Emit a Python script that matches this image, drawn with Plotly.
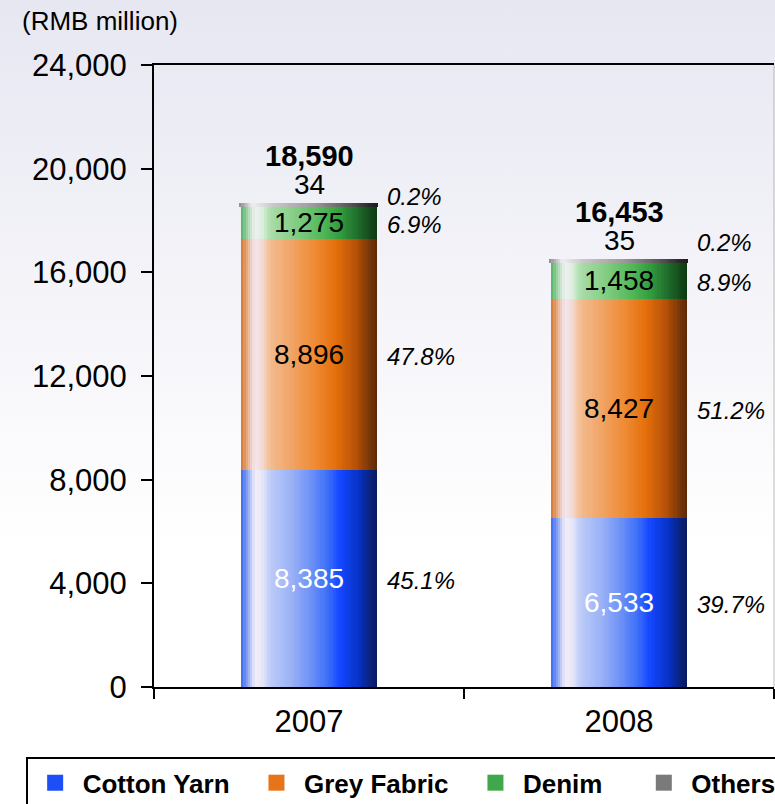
import base64
import plotly.graph_objects as go

# data
years = ['2007', '2008']
segments = ['Cotton Yarn', 'Grey Fabric', 'Denim', 'Others']
cotton_yarn = [8385, 6533]
grey_fabric = [8896, 8427]
denim = [1275, 1458]
others = [34, 35]
totals = [18590, 16453]
pct_cotton = ['45.1%', '39.7%']
pct_grey = ['47.8%', '51.2%']
pct_denim = ['6.9%', '8.9%']
pct_others = ['0.2%', '0.2%']
y_ticks = [0, 4000, 8000, 12000, 16000, 20000, 24000]

series = [cotton_yarn, grey_fabric, denim, others]
pcts = [pct_cotton, pct_grey, pct_denim, pct_others]

# horizontal "glossy" gradients, left -> right across each bar
gradients = [
    [(0, '#3a66f0'), (0.05, '#8ea9f5'), (0.10, '#f1ecf8'), (0.15, '#ebe9f8'),
     (0.22, '#bccaf8'), (0.38, '#98b0f7'), (0.52, '#6b8ff6'), (0.64, '#3b6ef8'),
     (0.73, '#1446ff'), (0.86, '#0733c6'), (1.0, '#0a1a5c')],
    [(0, '#d4742e'), (0.05, '#eab48e'), (0.10, '#f4e6ee'), (0.15, '#f3dcd8'),
     (0.22, '#f2ba8c'), (0.38, '#f1a363'), (0.55, '#ee8a32'), (0.70, '#e46e0a'),
     (0.84, '#b85208'), (1.0, '#5a2806')],
    [(0, '#52b062'), (0.05, '#a8d8ae'), (0.10, '#eef0f0'), (0.15, '#e2efe3'),
     (0.22, '#a8dca8'), (0.40, '#84cd84'), (0.58, '#56ba5c'), (0.72, '#34a040'),
     (0.86, '#1f6c2a'), (1.0, '#0e3812')],
    [(0, '#8a8a8a'), (0.10, '#f0eef0'), (0.25, '#c8c8c8'), (0.55, '#9a9a9a'),
     (0.80, '#5a5a5a'), (1.0, '#1e1e1e')],
]
legend_colors = ['#1c4ff5', '#e8741a', '#3fa84c', '#7a7a7a']
legend_pad = [2, 2, 4, 0]  # trailing non-breaking spaces to spread the legend


def hex_rgb(h):
    h = h.lstrip('#')
    return [int(h[i:i + 2], 16) for i in (0, 2, 4)]


def sample(stops, t):
    for (p0, c0), (p1, c1) in zip(stops[:-1], stops[1:]):
        if p0 <= t <= p1:
            f = 0 if p1 == p0 else (t - p0) / (p1 - p0)
            a, b = hex_rgb(c0), hex_rgb(c1)
            r = [round(a[k] + (b[k] - a[k]) * f) for k in range(3)]
            return f'rgb({r[0]},{r[1]},{r[2]})'
    return stops[-1][1]


FONT = 'Liberation Sans, Arial, sans-serif'
bar_w = 0.438
n_slices = 60
step = bar_w / n_slices

fig = go.Figure()

base = [0, 0]
for k, vals in enumerate(series):
    for i in range(n_slices):
        t = (i + 0.5) / n_slices
        w = step if i == n_slices - 1 else step * 1.6
        col = sample(gradients[k], t)
        # the thin "Others" band gets a same-colour outline so it stays visible
        lw = 3 if k == 3 else 0
        fig.add_trace(go.Bar(
            x=years, y=vals, base=base,
            width=[w, w], offset=-bar_w / 2 + i * step,
            marker=dict(color=col, line=dict(width=lw, color=col)),
            showlegend=False, hoverinfo='skip',
        ))
    base = [b + v for b, v in zip(base, vals)]

# legend entries
for k, name in enumerate(segments):
    fig.add_trace(go.Scatter(
        x=[None], y=[None], mode='markers', name=name + '\u00a0' * legend_pad[k],
        marker=dict(symbol='square', size=16, color=legend_colors[k]),
        showlegend=True, hoverinfo='skip',
    ))

# labels
annotations = []
base = [0, 0]
label_colors = ['white', 'black', 'black']
others_pct_shift = [9, 19]
for k, vals in enumerate(series):
    for j in range(len(years)):
        mid = base[j] + vals[j] / 2
        if k < 3:
            annotations.append(dict(
                x=j, y=mid, text=f'{vals[j]:,}', showarrow=False,
                font=dict(family=FONT, size=28, color=label_colors[k])))
            annotations.append(dict(
                x=j, y=mid, text=pcts[k][j], showarrow=False, xanchor='left',
                xshift=76, yshift=-2,
                font=dict(family=FONT, size=24, color='black', style='italic')))
        else:
            top = base[j] + vals[j]
            annotations.append(dict(
                x=j, y=top, text=f'{vals[j]:,}', showarrow=False,
                yanchor='bottom', yshift=3,
                font=dict(family=FONT, size=28, color='black')))
            annotations.append(dict(
                x=j, y=top, text=f'<b>{totals[j]:,}</b>', showarrow=False,
                yanchor='bottom', yshift=31,
                font=dict(family=FONT, size=29, color='black')))
            annotations.append(dict(
                x=j, y=mid, text=pcts[k][j], showarrow=False, xanchor='left',
                xshift=76, yshift=others_pct_shift[j],
                font=dict(family=FONT, size=24, color='black', style='italic')))
    base = [b + v for b, v in zip(base, vals)]

annotations.append(dict(
    xref='paper', yref='paper', x=-0.216, y=1, xanchor='left', yanchor='bottom',
    yshift=27, text='(RMB million)', showarrow=False,
    font=dict(family=FONT, size=26, color='black')))

# page background gradient (lavender -> white)
svg = ('<svg xmlns="http://www.w3.org/2000/svg" width="775" height="804">'
       '<defs><linearGradient id="g" x1="0" y1="0" x2="0" y2="1">'
       '<stop offset="0" stop-color="#e7e7f2"/>'
       '<stop offset="0.68" stop-color="#ffffff"/></linearGradient></defs>'
       '<rect width="775" height="804" fill="url(#g)"/></svg>')
bg_src = 'data:image/svg+xml;base64,' + base64.b64encode(svg.encode()).decode()

pw, ph = 620, 622
fig.update_layout(
    width=775, height=804,
    margin=dict(l=154, r=1, t=65, b=117, autoexpand=False),
    barmode='overlay', bargap=0,
    paper_bgcolor='white', plot_bgcolor='rgba(0,0,0,0)',
    font=dict(family=FONT, size=30, color='black'),
    annotations=annotations,
    images=[dict(source=bg_src, xref='paper', yref='paper',
                 x=-154 / pw, y=1 + 65 / ph, sizex=775 / pw, sizey=804 / ph,
                 xanchor='left', yanchor='top', sizing='stretch', layer='below')],
    shapes=[dict(type='line', xref='paper', yref='paper', x0=1, x1=1, y0=0, y1=1,
                 line=dict(color='#bbbbbb', width=1))],
    legend=dict(
        orientation='h', x=-0.207, y=-0.113, xanchor='left', yanchor='top',
        bgcolor='white', bordercolor='black', borderwidth=2,
        font=dict(family=FONT, size=26, color='black', weight='bold'),
        itemsizing='trace', itemwidth=45, tracegroupgap=0,
    ),
    xaxis=dict(
        type='category', categoryorder='array', categoryarray=years,
        range=[-0.5, 1.5], tickson='boundaries', ticks='outside', ticklen=10,
        tickwidth=2, tickcolor='black', showline=True, linecolor='black',
        linewidth=2, mirror=True, showgrid=False, zeroline=False,
        tickfont=dict(size=31), ticklabelstandoff=6,
    ),
    yaxis=dict(
        range=[0, 24000], tickvals=y_ticks, tickformat=',', ticks='outside',
        ticklen=11, tickwidth=2, tickcolor='black', showline=True,
        linecolor='black', linewidth=2, showgrid=False, zeroline=False,
        tickfont=dict(size=31), ticklabelstandoff=8,
    ),
)

fig.write_html('out.html', config={'displayModeBar': False},
               post_script="document.body.style.margin='0';")
